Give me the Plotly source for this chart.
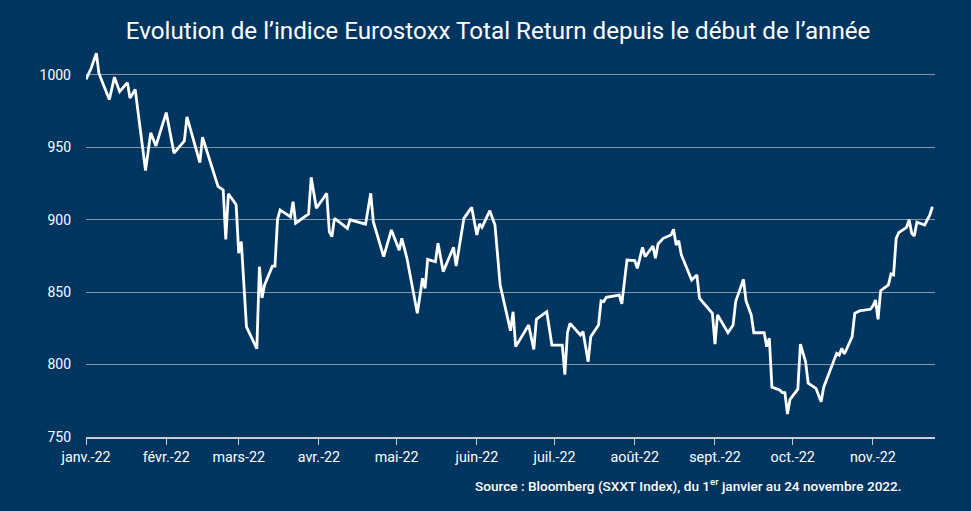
import plotly.graph_objects as go

dates = [
    "2022-01-01", "2022-01-03", "2022-01-05", "2022-01-06", "2022-01-10", "2022-01-12",
    "2022-01-14", "2022-01-17", "2022-01-18", "2022-01-20", "2022-01-24", "2022-01-26",
    "2022-01-28", "2022-02-01", "2022-02-04", "2022-02-08", "2022-02-09", "2022-02-14",
    "2022-02-15", "2022-02-21", "2022-02-23", "2022-02-24", "2022-02-25", "2022-02-28",
    "2022-03-01", "2022-03-02", "2022-03-04", "2022-03-08", "2022-03-09", "2022-03-10",
    "2022-03-11", "2022-03-14", "2022-03-15", "2022-03-16", "2022-03-17", "2022-03-21",
    "2022-03-22", "2022-03-23", "2022-03-28", "2022-03-29", "2022-03-31", "2022-04-04",
    "2022-04-05", "2022-04-06", "2022-04-07", "2022-04-12", "2022-04-13", "2022-04-19",
    "2022-04-21", "2022-04-22", "2022-04-26", "2022-04-29", "2022-05-02", "2022-05-03",
    "2022-05-05", "2022-05-09", "2022-05-11", "2022-05-12", "2022-05-13", "2022-05-16",
    "2022-05-17", "2022-05-19", "2022-05-23", "2022-05-24", "2022-05-27", "2022-05-30",
    "2022-06-01", "2022-06-02", "2022-06-03", "2022-06-06", "2022-06-08", "2022-06-10",
    "2022-06-14", "2022-06-15", "2022-06-16", "2022-06-21", "2022-06-23", "2022-06-24",
    "2022-06-28", "2022-06-30", "2022-07-04", "2022-07-05", "2022-07-06", "2022-07-07",
    "2022-07-11", "2022-07-12", "2022-07-14", "2022-07-15", "2022-07-18", "2022-07-19",
    "2022-07-20", "2022-07-21", "2022-07-26", "2022-07-27", "2022-07-29", "2022-08-01",
    "2022-08-02", "2022-08-04", "2022-08-05", "2022-08-08", "2022-08-09", "2022-08-10",
    "2022-08-12", "2022-08-15", "2022-08-16", "2022-08-17", "2022-08-18", "2022-08-19",
    "2022-08-23", "2022-08-25", "2022-08-26", "2022-08-30", "2022-08-31", "2022-09-01",
    "2022-09-02", "2022-09-06", "2022-09-08", "2022-09-09", "2022-09-12", "2022-09-13",
    "2022-09-15", "2022-09-16", "2022-09-20", "2022-09-21", "2022-09-22", "2022-09-23",
    "2022-09-26", "2022-09-27", "2022-09-28", "2022-09-29", "2022-09-30", "2022-10-03",
    "2022-10-04", "2022-10-06", "2022-10-07", "2022-10-10", "2022-10-12", "2022-10-13",
    "2022-10-18", "2022-10-19", "2022-10-20", "2022-10-21", "2022-10-24", "2022-10-25",
    "2022-10-27", "2022-10-28", "2022-10-31", "2022-11-01", "2022-11-02", "2022-11-03",
    "2022-11-04", "2022-11-07", "2022-11-08", "2022-11-09", "2022-11-10", "2022-11-11",
    "2022-11-14", "2022-11-15", "2022-11-16", "2022-11-17", "2022-11-18", "2022-11-21",
    "2022-11-23", "2022-11-24",
]

values = [
    997, 1004.6, 1015, 1001, 983, 998.5,
    988.5, 994.7, 984, 990, 934, 960,
    951, 974, 946, 954.5, 971, 939.4,
    957, 923, 920.6, 886.5, 918, 910.4,
    877, 885, 826, 811, 867.6, 846,
    855, 868, 868, 900.3, 906.8, 902,
    912.5, 897.6, 904, 929.3, 908, 918.3,
    891.8, 888.3, 901, 894, 900, 897,
    918.3, 898.7, 874.5, 893, 879, 887.2,
    873.4, 835.4, 859.6, 852.7, 872.7, 871,
    883.8, 864.2, 881, 868, 901, 908.6,
    889.5, 897.1, 894.8, 906.3, 896.4, 855,
    823.4, 836.5, 812.4, 827.3, 810.5, 831.3,
    836.5, 813.5, 813.5, 793, 822, 828.5,
    820.4, 822.8, 802, 819.3, 827.3, 844,
    843.5, 846.5, 848, 842, 872.2, 871.8,
    866.5, 881, 874.5, 881.9, 873.4, 883.3,
    887.2, 889.5, 893.4, 882.6, 885.6, 875.7,
    858.4, 861.9, 845.8, 837.7, 835.4, 814.2,
    834.3, 822, 827.3, 843.5, 858.9, 844,
    834.3, 822, 822, 812.4, 818.2, 784.4,
    782.5, 780.6, 780.6, 765.9, 776, 783,
    814.2, 802, 787.1, 783.6, 774.4, 784.4,
    807.8, 806.6, 811.2, 807.3, 819.3, 835.4,
    837.2, 837.5, 838.2, 840.5, 844.6, 831.3,
    851, 855, 862.6, 861.9, 887.2, 891.1,
    894.8, 900, 890.7, 888.8, 898.3, 896.4,
    903.3, 909,
]

month_ticks = ["2022-01-01", "2022-02-01", "2022-03-01", "2022-04-01", "2022-05-01",
               "2022-06-01", "2022-07-01", "2022-08-01", "2022-09-01", "2022-10-01",
               "2022-11-01"]
month_labels = ["janv.-22", "févr.-22", "mars-22", "avr.-22", "mai-22", "juin-22",
                "juil.-22", "août-22", "sept.-22", "oct.-22", "nov.-22"]
y_ticks = [750, 800, 850, 900, 950, 1000]

title_text = "Evolution de l’indice Eurostoxx Total Return depuis le début de l’année"
source_text = "Source : Bloomberg (SXXT Index), du 1<sup>er</sup> janvier au 24 novembre 2022."

BG = "#00355F"

fig = go.Figure()
fig.add_trace(go.Scatter(
    x=dates, y=values, mode="lines",
    line=dict(color="white", width=2.8),
    hoverinfo="skip", showlegend=False,
))

fig.update_layout(
    width=971, height=511,
    paper_bgcolor=BG, plot_bgcolor=BG,
    margin=dict(l=86, r=36, t=46, b=74),
    font=dict(family="Roboto", color="white", size=14),
    title=dict(text=title_text, x=0.513, xanchor="center", y=0.94, yanchor="middle",
               font=dict(family="Roboto", size=24.2, color="white")),
    annotations=[dict(
        text=source_text, xref="paper", yref="paper", x=1.0, y=-0.095,
        xanchor="right", yanchor="top", showarrow=False,
        font=dict(family="Roboto", size=13.6, color="white", weight=500),
        xshift=-31,
    )],
)

fig.update_xaxes(
    type="date", range=["2022-01-01", "2022-11-25"],
    tickvals=month_ticks, ticktext=month_labels,
    showgrid=False, showline=True, linecolor="#C8CED8", linewidth=1.5,
    ticks="outside", ticklen=6, tickcolor="#C8CED8", tickwidth=1,
    tickfont=dict(family="Roboto", size=14.3, color="white"),
    zeroline=False,
)
fig.update_yaxes(
    range=[750, 1020], tickvals=y_ticks,
    showgrid=True, gridcolor="#8594AA", gridwidth=1,
    showline=False, zeroline=False, ticks="", ticklabelstandoff=14,
    tickfont=dict(family="Roboto", size=14, color="white"),
)

fig.write_html("out.html", config={"displayModeBar": False},
               post_script="document.body.style.margin='0';")
